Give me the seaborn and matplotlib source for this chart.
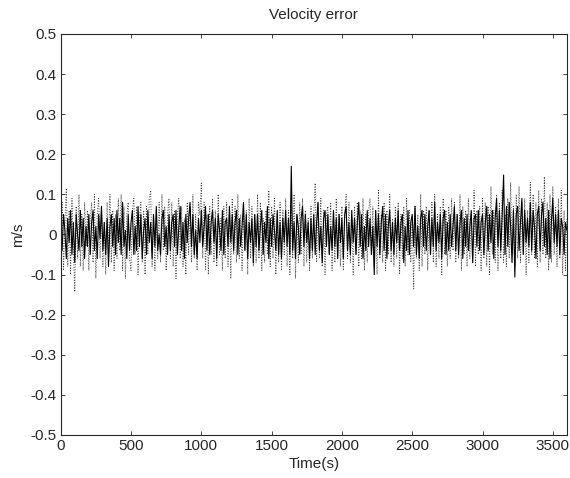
import numpy as np
import pandas as pd
import matplotlib
matplotlib.use("Agg")
import matplotlib.pyplot as plt
import seaborn as sns

# sample times (s), one sample every 10 s
time_s = list(range(0, 3601, 10))

# velocity error, solid trace (m/s), rows of 200 s
vel_solid = [
    0.02, -0.04, 0.05, 0.01, -0.06, 0.04, -0.02, 0.06, -0.05, 0.03, -0.07, 0.05, 0.00, -0.04, 0.06, -0.03, 0.04, -0.06, 0.02, -0.03,
    0.05, -0.05, 0.03, 0.06, -0.04, 0.02, -0.06, 0.05, -0.01, 0.07, -0.04, 0.03, -0.05, 0.04, -0.08, 0.02, 0.05, -0.03, 0.04, -0.05,
    0.06, -0.02, 0.04, -0.05, 0.08, -0.03, 0.01, -0.06, 0.05, -0.04, 0.03, 0.06, -0.05, 0.02, -0.04, 0.07, -0.03, 0.05, -0.06, 0.01,
    0.04, -0.05, 0.06, -0.02, 0.03, -0.06, 0.05, -0.03, 0.07, -0.04, 0.00, -0.05, 0.04, 0.06, -0.03, 0.02, -0.05, 0.05, -0.04, 0.03,
    0.05, -0.03, 0.06, -0.05, 0.02, 0.07, -0.04, 0.03, -0.06, 0.05, -0.02, 0.04, 0.08, -0.03, 0.05, -0.05, 0.01, -0.06, 0.04, -0.02,
    0.06, -0.03, 0.02, 0.07, -0.04, 0.05, -0.05, 0.03, 0.06, -0.02, 0.04, -0.06, 0.05, 0.01, -0.04, 0.06, -0.05, 0.03, 0.04, -0.03,
    0.07, -0.02, 0.05, -0.04, 0.03, 0.06, -0.05, 0.04, -0.03, 0.02, 0.08, -0.04, 0.05, -0.06, 0.03, -0.02, 0.04, -0.07, 0.05, -0.03,
    0.05, -0.04, 0.02, 0.06, -0.05, 0.03, -0.02, 0.07, -0.06, 0.04, -0.03, 0.05, 0.01, -0.04, 0.06, -0.05, 0.03, -0.06, 0.04, -0.02,
    0.06, -0.03, 0.04, -0.05, 0.17, -0.04, 0.03, -0.06, 0.05, 0.02, -0.05, 0.04, 0.07, -0.03, 0.05, -0.02, 0.03, -0.06, 0.04, -0.04,
    0.05, -0.05, 0.03, 0.08, -0.04, 0.02, -0.07, 0.04, 0.06, -0.03, 0.05, -0.05, 0.02, -0.04, 0.06, -0.03, 0.04, -0.06, 0.05, -0.02,
    0.04, -0.06, 0.05, 0.07, -0.04, 0.03, -0.05, 0.06, -0.02, 0.04, -0.05, 0.03, 0.08, -0.03, 0.05, -0.06, 0.02, -0.04, 0.06, -0.03,
    0.04, -0.05, 0.02, -0.10, 0.06, -0.03, 0.05, -0.05, 0.03, 0.07, -0.04, 0.05, -0.06, 0.02, 0.06, -0.04, 0.03, -0.05, 0.04, -0.02,
    0.06, -0.04, 0.03, 0.05, -0.07, 0.02, -0.04, 0.06, -0.05, 0.03, 0.05, -0.03, 0.07, -0.05, 0.02, -0.06, 0.04, 0.06, -0.03, 0.05,
    -0.04, 0.02, 0.06, -0.05, 0.04, -0.03, 0.08, -0.04, 0.03, -0.02, 0.05, -0.06, 0.04, 0.06, -0.05, 0.03, -0.04, 0.05, -0.03, 0.02,
    0.07, -0.04, 0.05, -0.05, 0.03, 0.06, -0.06, 0.04, -0.03, 0.05, -0.04, 0.02, 0.06, -0.07, 0.04, 0.05, -0.03, 0.06, -0.04, 0.03,
    0.05, -0.05, 0.03, 0.07, -0.04, 0.05, -0.02, 0.06, -0.06, 0.04, 0.09, -0.03, 0.06, -0.04, 0.05, 0.148, -0.05, 0.07, -0.03, 0.08,
    0.02, -0.07, 0.06, -0.106, 0.05, 0.07, -0.04, 0.03, 0.09, -0.05, 0.06, -0.02, 0.04, -0.03, 0.08, -0.04, 0.06, 0.02, -0.06, 0.05,
    0.07, -0.04, 0.05, 0.08, -0.03, 0.04, -0.05, 0.06, -0.06, 0.03, 0.09, -0.02, 0.05, -0.03, 0.06, -0.05, 0.04, 0.02, -0.05, 0.03,
    0.01,
]

# velocity error, dotted trace (m/s), rows of 200 s
vel_dotted = [
    -0.05, 0.08, -0.09, 0.03, 0.115, -0.08, 0.06, -0.10, 0.09, -0.04, -0.143, 0.07, -0.06, 0.10, -0.08, 0.05, -0.09, 0.08, -0.03, 0.06,
    -0.09, 0.04, 0.08, -0.07, 0.10, -0.11, 0.05, 0.09, -0.06, 0.07, -0.08, 0.03, -0.10, 0.08, -0.05, 0.10, -0.07, 0.06, -0.09, 0.05,
    -0.06, 0.09, -0.04, 0.10, -0.09, 0.07, -0.11, 0.05, 0.08, -0.06, -0.09, 0.06, 0.09, -0.05, 0.07, -0.10, 0.04, 0.08, -0.07, 0.06,
    -0.10, 0.07, -0.05, 0.09, 0.11, -0.08, 0.04, -0.09, 0.06, -0.06, 0.08, -0.07, 0.10, -0.04, 0.07, -0.09, 0.05, 0.09, -0.06, 0.08,
    -0.08, 0.06, -0.11, 0.05, 0.09, -0.06, 0.07, -0.08, 0.04, -0.10, 0.08, -0.05, 0.07, -0.07, 0.10, -0.06, 0.05, -0.09, 0.08, 0.05,
    0.128, -0.06, 0.08, -0.09, 0.05, -0.10, 0.07, -0.05, 0.09, -0.07, 0.06, -0.08, 0.10, -0.05, 0.04, -0.09, 0.07, -0.06, 0.08, -0.08,
    0.06, -0.11, 0.09, -0.05, 0.07, -0.07, 0.10, -0.06, 0.05, -0.09, 0.08, -0.04, 0.06, -0.10, 0.09, -0.06, 0.07, -0.08, 0.05, -0.07,
    0.10, -0.06, 0.08, -0.09, 0.04, -0.07, 0.06, -0.05, 0.11, -0.08, 0.07, -0.06, 0.09, -0.10, 0.05, -0.07, 0.08, -0.09, 0.06, -0.05,
    0.09, -0.08, 0.06, -0.10, 0.07, -0.06, 0.10, -0.11, 0.05, -0.07, 0.08, -0.05, 0.09, -0.08, 0.06, -0.07, 0.04, -0.09, 0.07, -0.06,
    0.05, 0.128, -0.07, 0.08, -0.06, 0.09, -0.08, 0.06, -0.10, 0.05, 0.07, -0.05, 0.08, -0.09, 0.06, -0.07, 0.09, -0.06, 0.05, -0.08,
    0.07, -0.09, 0.05, 0.10, -0.06, 0.08, -0.07, 0.04, -0.10, 0.07, -0.05, 0.08, -0.08, 0.06, -0.06, 0.09, -0.09, 0.05, -0.07, 0.06,
    0.09, -0.05, 0.07, -0.08, 0.06, -0.10, 0.11, -0.06, 0.05, -0.07, 0.08, -0.09, 0.06, -0.05, 0.10, -0.07, 0.04, -0.08, 0.07, -0.06,
    0.08, -0.10, 0.05, -0.06, 0.07, -0.08, 0.09, -0.05, 0.06, -0.07, 0.04, -0.136, 0.07, -0.06, 0.05, -0.09, 0.10, -0.08, 0.06, -0.05,
    0.07, -0.09, 0.06, -0.05, 0.08, -0.07, 0.10, -0.08, 0.05, -0.06, 0.07, -0.10, 0.09, -0.05, 0.06, -0.08, 0.07, -0.06, 0.09, -0.04,
    0.08, -0.07, 0.05, -0.06, 0.10, -0.09, 0.07, -0.05, 0.06, -0.08, 0.09, -0.06, 0.05, -0.07, 0.11, -0.08, 0.06, -0.05, 0.07, -0.09,
    0.09, -0.06, 0.08, -0.08, 0.07, -0.10, 0.12, -0.05, 0.06, -0.07, 0.10, -0.09, 0.08, -0.06, 0.11, -0.07, 0.05, -0.08, 0.09, -0.06,
    0.13, -0.05, 0.07, -0.08, 0.10, -0.06, 0.12, -0.07, 0.08, -0.05, 0.09, -0.10, 0.06, -0.07, 0.13, -0.05, 0.10, -0.06, 0.08, -0.08,
    0.11, -0.07, 0.09, -0.05, 0.144, -0.06, 0.08, -0.09, 0.10, -0.07, 0.12, -0.05, 0.07, -0.08, 0.09, -0.06, 0.11, -0.10, 0.06, -0.09,
    0.04,
]

df = pd.DataFrame({"time": time_s, "solid": vel_solid, "dotted": vel_dotted})

sns.set_style("ticks")
plt.rcParams["font.family"] = ["Liberation Sans", "DejaVu Sans"]
plt.rcParams["xtick.direction"] = "in"
plt.rcParams["ytick.direction"] = "in"

fig = plt.figure(figsize=(5.7, 4.78), dpi=100)
ax = fig.add_axes([0.1065, 0.090, 0.888, 0.839])

sns.lineplot(data=df, x="time", y="dotted", ax=ax, color="#444444",
             linewidth=0.7, linestyle=":")
sns.lineplot(data=df, x="time", y="solid", ax=ax, color="black",
             linewidth=0.8)

ax.set_xlim(0, 3600)
ax.set_ylim(-0.5, 0.5)
ax.set_xticks([0, 500, 1000, 1500, 2000, 2500, 3000, 3500])
ax.set_yticks([-0.5, -0.4, -0.3, -0.2, -0.1, 0, 0.1, 0.2, 0.3, 0.4, 0.5])
ax.set_yticklabels(["-0.5", "-0.4", "-0.3", "-0.2", "-0.1", "0",
                    "0.1", "0.2", "0.3", "0.4", "0.5"])
ax.tick_params(labelsize=11, length=3, width=0.6, top=True, right=True, pad=3)
for s in ax.spines.values():
    s.set_linewidth(0.8)
    s.set_visible(True)

ax.set_title("Velocity error", fontsize=11, pad=11)
ax.set_xlabel("Time(s)", fontsize=11, labelpad=3)
ax.set_ylabel("m/s", fontsize=11, labelpad=4)

fig.savefig("out.png", dpi=100)
